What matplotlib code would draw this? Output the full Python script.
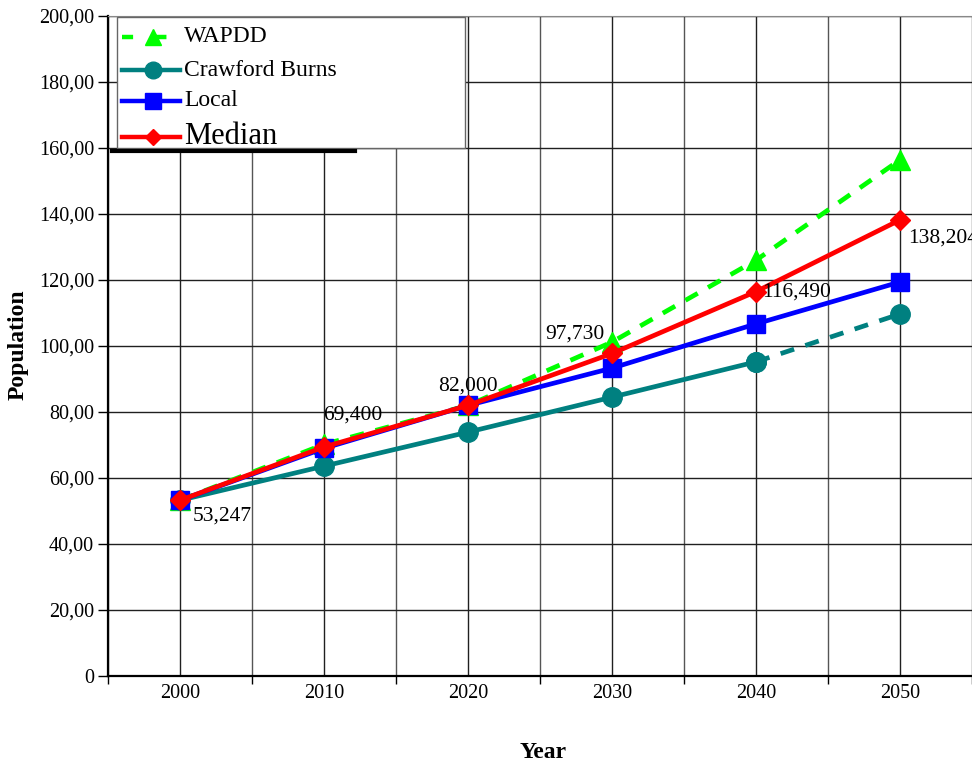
import matplotlib; matplotlib.use("Agg")
import matplotlib.pyplot as plt
from matplotlib.patches import Rectangle
from matplotlib.lines import Line2D
import numpy as np

plt.rcParams['font.family']=['Liberation Serif','DejaVu Serif']

years=["2000","2010","2020","2030","2040","2050"]
wapdd=[53247,70200,82000,101200,126000,156400]
crawford=[53247,63600,73900,84500,95200,109700]
local=[53247,69000,82000,93300,106700,119400]
median=[53247,69400,82000,97730,116490,138204]
med_labels=["53,247","69,400","82,000","97,730","116,490","138,204"]
yticks=[0,20000,40000,60000,80000,100000,120000,140000,160000,180000,200000]
ytick_labels=["0","20,00","40,00","60,00","80,00","100,00","120,00","140,00","160,00","180,00","200,00"]
series_names=["WAPDD","Crawford Burns","Local","Median"]

W,H=972,763
fig=plt.figure(figsize=(W/100,H/100),dpi=100)
ax=fig.add_axes([108/W,1-676/H,(972-108)/W,(676-16)/H])
x=np.arange(len(years))

GREEN="#00ff00"; TEAL="#008080"; BLUE="#0000ff"; RED="#ff0000"
DASH=(0,(3,2.5))
ax.plot(x,wapdd,color=GREEN,lw=3.4,ls=DASH,marker="^",ms=15,zorder=3)
ax.plot(x[:5],crawford[:5],color=TEAL,lw=3.4,marker="o",ms=14,zorder=4)
ax.plot(x[4:],crawford[4:],color=TEAL,lw=3.4,ls=DASH,marker="o",ms=14,zorder=4)
ax.plot(x,local,color=BLUE,lw=3.4,marker="s",ms=13,zorder=5)
ax.plot(x,median,color=RED,lw=3.4,marker="D",ms=10,zorder=6)

# data labels of the median series (last one runs off the right edge, as in the original)
offs=[(13,-16),(-1,32),(-30,19),(-67,19),(6,0),(8,-18)]
for i,(t,(dx,dy)) in enumerate(zip(med_labels,offs)):
    ax.annotate(t,(x[i],median[i]),xytext=(dx,dy),textcoords="offset pixels",fontsize=15.5,
                ha="left",va="center",zorder=7)

ax.set_xlim(-0.5,5.5); ax.set_ylim(0,200000)
ax.set_xticks(x); ax.set_xticklabels(years,fontsize=14.5)
ax.set_xticks(np.arange(-0.5,5.6,1),minor=True)
ax.tick_params(axis="x",which="major",length=0,pad=6)
ax.tick_params(axis="x",which="minor",length=6,direction="out",width=1)
ax.set_yticks(yticks); ax.set_yticklabels(ytick_labels,fontsize=14.5)
ax.tick_params(axis="y",length=7,width=1,direction="out",pad=3)
ax.grid(True,which="major",color="#202020",lw=1)
ax.grid(True,which="minor",axis="x",color="#555555",lw=1)
ax.set_axisbelow(True)
ax.spines["right"].set_visible(False)
ax.spines["top"].set_color("#888888")
ax.spines["left"].set_linewidth(1.6)
ax.spines["bottom"].set_linewidth(1.6)

fig.text(543/W,1-752/H,"Year",fontsize=17,fontweight="bold",ha="center",va="center")
fig.text(18/W,1-345/H,"Population",fontsize=17,fontweight="bold",ha="center",va="center",rotation=90)

# legend box drawn by hand
fig.patches.append(Rectangle((117/W,1-148/H),(465-117)/W,(148-17)/H,transform=fig.transFigure,
                             facecolor="white",edgecolor="#666666",lw=1,zorder=8))
fig.lines.append(Line2D([112/W,355/W],[1-151/H,1-151/H],transform=fig.transFigure,color="black",lw=3,zorder=9))
leg_rows=[37,70,101,137]
leg_style=[(GREEN,(0,(2.5,5)),"^",12),(TEAL,"-","o",12),(BLUE,"-","s",11),(RED,"-","D",8)]
leg_size=[17,17,17,22]
for name,yy,(c,ls,m,ms),fs in zip(series_names,leg_rows,leg_style,leg_size):
    yf=1-yy/H
    fig.lines.append(Line2D([122/W,180/W],[yf,yf],transform=fig.transFigure,color=c,lw=3.2,ls=ls,zorder=10))
    fig.lines.append(Line2D([153/W],[yf],transform=fig.transFigure,color=c,marker=m,ms=ms,ls="none",zorder=11))
    fig.text(184/W,yf,name,fontsize=fs,ha="left",va="center",zorder=12)

fig.savefig("out.png",dpi=100)
